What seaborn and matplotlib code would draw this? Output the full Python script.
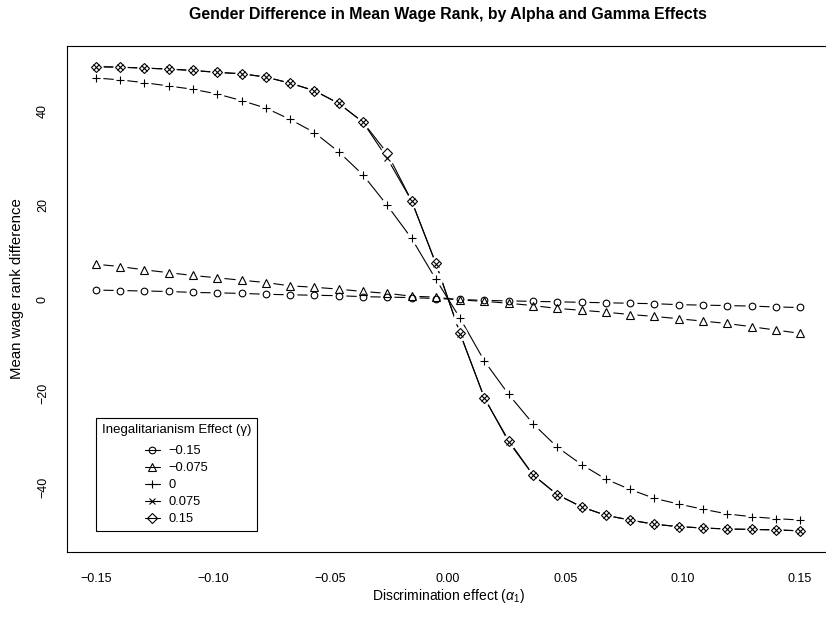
import numpy as np
import pandas as pd
import matplotlib
matplotlib.use("Agg")
import matplotlib.pyplot as plt
import seaborn as sns
from matplotlib.lines import Line2D

# discrimination effect grid (30 points)
alpha = np.linspace(-0.15, 0.15, 30)

gamma_labels = ["\u22120.15", "\u22120.075", "0", "0.075", "0.15"]

g_m015 = [1.9, 1.8, 1.7, 1.6, 1.4, 1.3, 1.2, 1.0, 0.9, 0.8, 0.7, 0.5, 0.4, 0.3, 0.1,
          -0.1, -0.3, -0.4, -0.5, -0.6, -0.7, -0.8, -0.9, -1.0, -1.2, -1.3, -1.4, -1.5, -1.7, -1.8]
g_m0075 = [7.4, 6.9, 6.2, 5.6, 5.0, 4.5, 4.0, 3.5, 2.8, 2.5, 2.1, 1.6, 1.2, 0.6, 0.4,
           -0.2, -0.5, -0.9, -1.4, -2.0, -2.4, -2.8, -3.3, -3.7, -4.2, -4.7, -5.2, -5.9, -6.6, -7.3]
g_0 = [47.0, 46.6, 46.0, 45.3, 44.6, 43.6, 42.2, 40.6, 38.2, 35.4, 31.3, 26.4, 19.9, 12.9, 4.2,
       -4.1, -13.2, -20.3, -26.5, -31.5, -35.2, -38.3, -40.5, -42.4, -43.6, -44.7, -45.7, -46.3, -46.7, -47.0]
g_0075 = [49.4, 49.3, 49.1, 48.9, 48.6, 48.2, 47.9, 47.2, 45.9, 44.3, 41.6, 37.6, 29.9, 20.9, 7.5,
          -7.4, -21.0, -30.4, -37.4, -41.6, -44.2, -46.0, -47.0, -47.9, -48.4, -48.7, -48.9, -49.0, -49.1, -49.3]
g_015 = [49.4, 49.3, 49.1, 48.9, 48.6, 48.2, 47.9, 47.2, 45.9, 44.3, 41.6, 37.6, 31.0, 20.9, 7.6,
         -7.3, -21.1, -30.1, -37.4, -41.6, -44.2, -46.0, -47.0, -47.9, -48.4, -48.7, -48.9, -49.0, -49.1, -49.3]

series = [g_m015, g_m0075, g_0, g_0075, g_015]
markers = ["o", "^", "+", "x", "D"]
msizes = [4.8, 5.6, 6.2, 4.8, 4.6]

df = pd.concat(
    [pd.DataFrame({"alpha": alpha, "diff": vals, "gamma": lab})
     for vals, lab in zip(series, gamma_labels)],
    ignore_index=True,
)

sns.set_theme(style="white")
plt.rcParams["font.family"] = ["Liberation Sans", "DejaVu Sans"]
plt.rcParams["mathtext.fontset"] = "custom"
plt.rcParams["mathtext.rm"] = "Liberation Sans"
plt.rcParams["mathtext.it"] = "Liberation Sans:italic"
plt.rcParams["text.color"] = "black"
plt.rcParams["axes.labelcolor"] = "black"

fig = plt.figure(figsize=(8.26, 6.21), dpi=100)
ax = fig.add_axes([0.0811, 0.1111, 0.9225, 0.8148])

# lines
for lab in gamma_labels:
    sub = df[df["gamma"] == lab]
    sns.lineplot(data=sub, x="alpha", y="diff", color="black", lw=0.8,
                 ax=ax, zorder=2, legend=False)

# white gaps around points (R type="b" look)
for lab in gamma_labels:
    sub = df[df["gamma"] == lab]
    sns.lineplot(data=sub, x="alpha", y="diff", linestyle="", marker="o",
                 markersize=10, markerfacecolor="white", markeredgewidth=0,
                 ax=ax, zorder=3, legend=False)

# points
for lab, m, ms in zip(gamma_labels, markers, msizes):
    sub = df[df["gamma"] == lab]
    sns.lineplot(data=sub, x="alpha", y="diff", linestyle="", marker=m,
                 markersize=ms, markerfacecolor="none", markeredgecolor="black",
                 markeredgewidth=0.8, color="black", ax=ax, zorder=4, legend=False)

ax.set_xlim(-0.1623, 0.1623)
ax.set_ylim(-53.8, 53.8)
ax.set_xticks([-0.15, -0.10, -0.05, 0.0, 0.05, 0.10, 0.15])
ax.set_yticks([-40, -20, 0, 20, 40])
ax.set_xticklabels(["\u22120.15", "\u22120.10", "\u22120.05", "0.00", "0.05", "0.10", "0.15"])
ax.set_yticklabels(["\u221240", "\u221220", "0", "20", "40"])

for sp in ax.spines.values():
    sp.set_color("black")
    sp.set_linewidth(0.8)

ax.tick_params(axis="both", direction="out", length=6, width=0.8,
               color="black", labelsize=9, labelcolor="black")
ax.tick_params(axis="x", pad=9)
ax.tick_params(axis="y", pad=7, labelrotation=90)
plt.setp(ax.get_yticklabels(), va="center")

ax.set_xlabel(r"Discrimination effect ($\alpha_1$)", fontsize=10)
ax.set_ylabel("Mean wage rank difference", fontsize=10.8)
ax.xaxis.set_label_coords(0.5, -0.07)
ax.yaxis.set_label_coords(-0.057, 0.52)

ax.set_title("Gender Difference in Mean Wage Rank, by Alpha and Gamma Effects",
             fontsize=11.4, fontweight="bold", pad=19.5, color="black")

handles = [Line2D([0], [0], color="black", lw=0.8, marker=m, markersize=ms,
                  markerfacecolor="none", markeredgecolor="black", markeredgewidth=0.8)
           for m, ms in zip(markers, msizes)]
leg = ax.legend(handles, gamma_labels, title="Inegalitarianism Effect (\u03b3)",
                loc="upper left", bbox_to_anchor=(0.038, 0.265), borderaxespad=0,
                fontsize=9.3, title_fontsize=9.5, handlelength=1.15, handletextpad=0.65,
                labelspacing=0.38, borderpad=0.45, fancybox=False, framealpha=1,
                edgecolor="black")
leg.get_frame().set_linewidth(0.8)
# a bit more room between the legend title and its entries
leg._legend_box.sep = 7

fig.savefig("out.png", dpi=100)
